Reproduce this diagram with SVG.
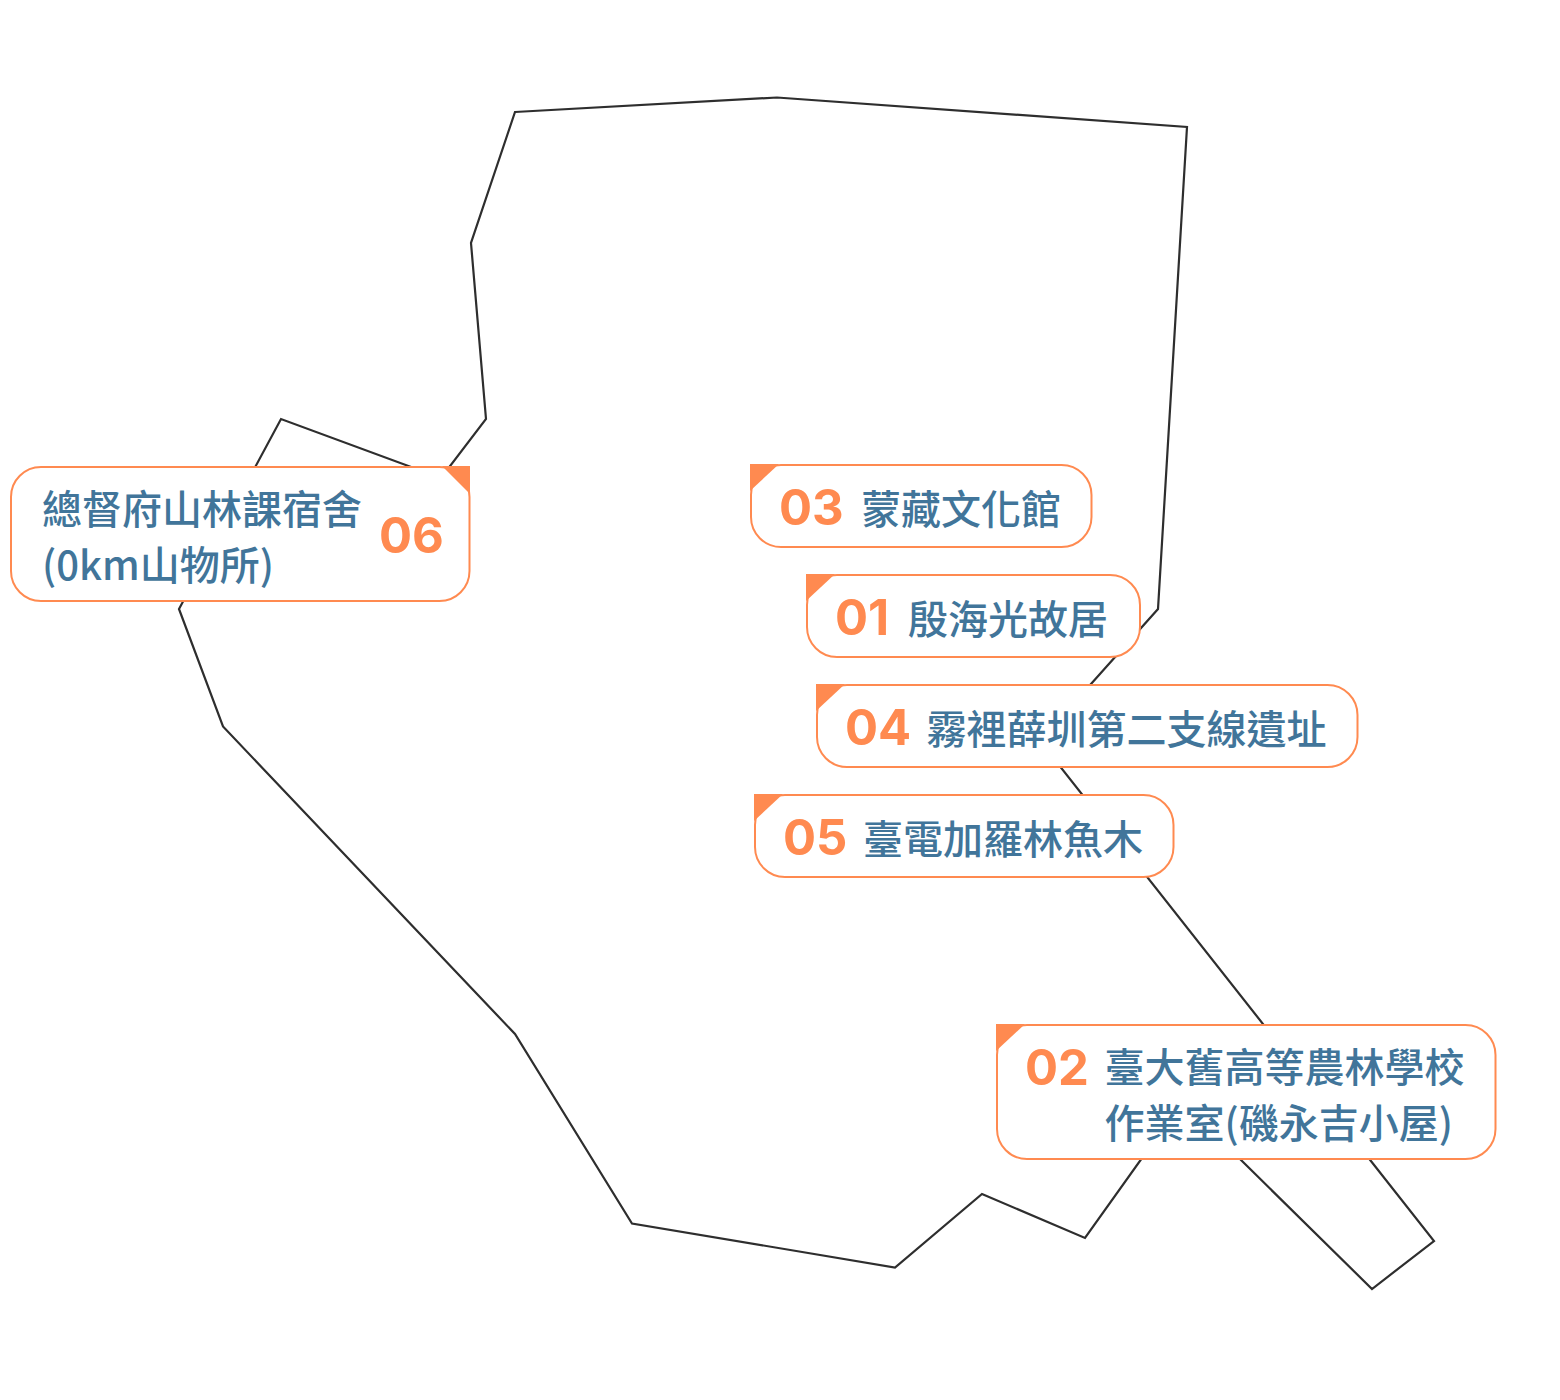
<svg xmlns="http://www.w3.org/2000/svg" width="1560" height="1400" viewBox="0 0 1560 1400">
<style>
.b{fill:#fff;stroke:#ff8a50;stroke-width:2}
.c{fill:#ff8a50}
.t{font-family:"Noto Sans CJK TC","Noto Sans",sans-serif;font-size:40px;font-weight:500;fill:#41759a}
.n{font-family:Inter,"Liberation Sans",sans-serif;font-size:49px;font-weight:700;fill:#ff8a50}
#connectors polygon{fill:none;stroke:#2e2e2e;stroke-width:2.2;stroke-linejoin:miter}
</style>
<rect width="1560" height="1400" fill="#fff"/>
<g id="connectors">
<polygon points="515,112 777,97.500 1187,127 1158,609 1040,741 1434,1241 1372,1289 1182,1102 1085,1238 982,1194 895,1267.500 632,1223.500 515,1034 223,726.500 179,609 281,419 441,478 486,419 471,243"/>
</g>
<g id="node-06"><rect class="b" x="11" y="467" width="458.500" height="134" rx="30"/><polygon class="c" points="442,466 470,466 470,494"/>
<text class="t" x="42" y="524">總督府山林課宿舍</text><text class="t" x="42" y="580">(0km山物所)</text><text class="n" x="379" y="553">06</text></g>
<g id="node-03"><rect class="b" x="751" y="465" width="340.500" height="82" rx="30"/><polygon class="c" points="750,464 779,464 750,491"/>
<text class="n" x="779" y="525">03</text><text class="t" x="861" y="524">蒙藏文化館</text></g>
<g id="node-01"><rect class="b" x="807" y="575" width="333" height="82" rx="30"/><polygon class="c" points="806,574 835,574 806,601"/>
<text class="n" x="835" y="635">01</text><text class="t" x="908" y="634">殷海光故居</text></g>
<g id="node-04"><rect class="b" x="817" y="685" width="540.500" height="82" rx="30"/><polygon class="c" points="816,684 845,684 816,711"/>
<text class="n" x="845" y="745">04</text><text class="t" x="926.500" y="744">霧裡薛圳第二支線遺址</text></g>
<g id="node-05"><rect class="b" x="755" y="795" width="418.500" height="82" rx="30"/><polygon class="c" points="754,794 783,794 754,821"/>
<text class="n" x="783" y="855">05</text><text class="t" x="863" y="854">臺電加羅林魚木</text></g>
<g id="node-02"><rect class="b" x="997" y="1025" width="498.500" height="134" rx="30"/><polygon class="c" points="996,1024 1025,1024 996,1051"/>
<text class="n" x="1025" y="1085">02</text><text class="t" x="1104.500" y="1082">臺大舊高等農林學校</text><text class="t" x="1104.500" y="1138">作業室(磯永吉小屋)</text></g>
</svg>
